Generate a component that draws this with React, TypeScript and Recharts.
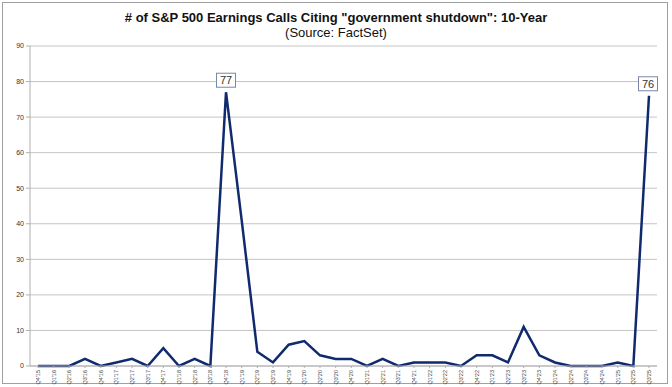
import React from "react";
import { LineChart, Line, XAxis, YAxis, CartesianGrid } from "recharts";

const quarters: string[] = [
  "Q4'15",
  "Q1'16", "Q2'16", "Q3'16", "Q4'16",
  "Q1'17", "Q2'17", "Q3'17", "Q4'17",
  "Q1'18", "Q2'18", "Q3'18", "Q4'18",
  "Q1'19", "Q2'19", "Q3'19", "Q4'19",
  "Q1'20", "Q2'20", "Q3'20", "Q4'20",
  "Q1'21", "Q2'21", "Q3'21", "Q4'21",
  "Q1'22", "Q2'22", "Q3'22", "Q4'22",
  "Q1'23", "Q2'23", "Q3'23", "Q4'23",
  "Q1'24", "Q2'24", "Q3'24", "Q4'24",
  "Q1'25", "Q2'25", "Q3'25",
];

const calls: number[] = [
  0,
  0, 0, 2, 0,
  1, 2, 0, 5,
  0, 2, 0, 77,
  41, 4, 1, 6,
  7, 3, 2, 2,
  0, 2, 0, 1,
  1, 1, 0, 3,
  3, 1, 11, 3,
  1, 0, 0, 0,
  1, 0, 76,
];

const labeledQuarters: string[] = ["Q4'18", "Q3'25"];
const yTicks: number[] = [0, 10, 20, 30, 40, 50, 60, 70, 80, 90];

const data = quarters.map((q, i) => ({ q, v: calls[i] }));

const XTick = (props: any) => {
  const { x, y, payload } = props;
  return (
    <g transform={`translate(${x},${y})`}>
      <text
        x={0}
        y={0}
        transform="rotate(-90)"
        textAnchor="end"
        dominantBaseline="central"
        fontSize={5.5}
        fill="#444"
        fontFamily="Arial, 'Liberation Sans', sans-serif"
      >
        {payload.value}
      </text>
    </g>
  );
};

const PointLabel = (props: any) => {
  const { x, y, index, value } = props;
  if (!labeledQuarters.includes(quarters[index])) return null;
  const w = 19;
  const h = 14;
  const cx = index === quarters.length - 1 ? x - 1 : x;
  return (
    <g>
      <rect
        x={cx - w / 2}
        y={y - h - 5}
        width={w}
        height={h}
        fill="#fff"
        stroke="#7787a8"
        strokeWidth={1}
      />
      <text
        x={cx}
        y={y - 5 - h / 2}
        textAnchor="middle"
        dominantBaseline="central"
        fontSize={11}
        fill="#333"
        fontFamily="Arial, 'Liberation Sans', sans-serif"
      >
        {value}
      </text>
    </g>
  );
};

export default function App() {
  return (
    <div
      style={{
        position: "absolute",
        left: 0,
        top: 0,
        width: 672,
        height: 387,
        background: "#fff",
        fontFamily: "Arial, 'Liberation Sans', sans-serif",
      }}
    >
      <div
        style={{
          position: "absolute",
          left: 2,
          top: 2,
          width: 664,
          height: 380,
          border: "1px solid #a0a0a0",
        }}
      />
      <div
        style={{
          position: "absolute",
          left: 0,
          top: 10,
          width: 672,
          textAlign: "center",
          fontSize: 13,
          fontWeight: "bold",
          color: "#111",
        }}
      >
        # of S&amp;P 500 Earnings Calls Citing "government shutdown": 10-Year
      </div>
      <div
        style={{
          position: "absolute",
          left: 0,
          top: 25,
          width: 672,
          textAlign: "center",
          fontSize: 13,
          color: "#111",
        }}
      >
        (Source: FactSet)
      </div>
      <div style={{ position: "absolute", left: 0, top: 0 }}>
        <LineChart
          width={672}
          height={387}
          data={data}
          margin={{ top: 46, right: 15, left: 0, bottom: 0 }}
        >
          <CartesianGrid vertical={false} stroke="#c4c4c4" strokeWidth={1} />
          <XAxis
            dataKey="q"
            interval={0}
            height={21}
            padding={{ left: 8, right: 8 }}
            tick={<XTick />}
            tickLine={{ stroke: "#b0b0b0" }}
            tickSize={2}
            axisLine={{ stroke: "#b0b0b0" }}
          />
          <YAxis
            width={30}
            domain={[0, 90]}
            ticks={yTicks}
            interval={0}
            tickSize={4}
            tickLine={{ stroke: "#b0b0b0" }}
            axisLine={{ stroke: "#b0b0b0" }}
            tick={{
              fontSize: 7,
              fill: "#333",
              fontFamily: "Arial, 'Liberation Sans', sans-serif",
            }}
          />
          <Line
            type="linear"
            dataKey="v"
            stroke="#102a6e"
            strokeWidth={2.5}
            dot={false}
            isAnimationActive={false}
            label={<PointLabel />}
          />
        </LineChart>
      </div>
    </div>
  );
}
